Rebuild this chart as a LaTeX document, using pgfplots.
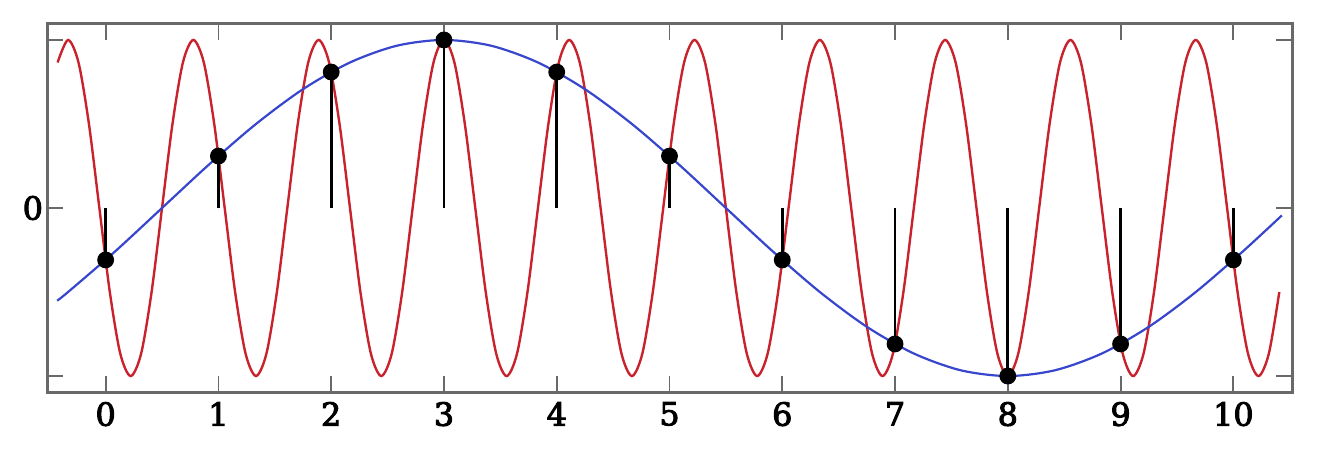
\documentclass[border=0pt]{standalone}
\usepackage{pgfplots}
\pgfplotsset{compat=1.18}
\usepackage{fontspec}
\setmainfont{DejaVu Serif}
\newfontfamily\tickfont{DejaVu Serif}[FakeBold=3]
\definecolor{redc}{RGB}{200,35,45}
\definecolor{bluec}{RGB}{55,70,205}
\definecolor{framec}{RGB}{105,105,105}
\begin{document}
\begin{tikzpicture}
\begin{axis}[name=ax, scale only axis, width=622.5bp, height=184bp,
 xmin=-0.52, xmax=10.52, ymin=-1.095, ymax=1.095,
 xtick={0,...,10}, ytick={-1,0,1}, yticklabels={,0,},
 tick align=inside, major tick length=8bp,
 axis line style={framec, line width=1.5bp},
 tick style={framec, line width=0.9bp},
 ticklabel style={font=\fontsize{16}{19}\tickfont},
 xticklabel style={yshift=-1.5bp},
 yticklabel style={xshift=1.5bp},
 /pgf/number format/assume math mode=true]
\addplot[redc, line width=1.2bp, smooth] coordinates {
(-0.4259,0.866)
(-0.3333,1) (-0.2407,0.866) (-0.1481,0.5) (-0.0556,0) (0.0370,-0.5) (0.1296,-0.866)
(0.2222,-1) (0.3148,-0.866) (0.4074,-0.5) (0.5000,0) (0.5926,0.5) (0.6852,0.866)
(0.7778,1) (0.8704,0.866) (0.9630,0.5) (1.0556,0) (1.1481,-0.5) (1.2407,-0.866)
(1.3333,-1) (1.4259,-0.866) (1.5185,-0.5) (1.6111,0) (1.7037,0.5) (1.7963,0.866)
(1.8889,1) (1.9815,0.866) (2.0741,0.5) (2.1667,0) (2.2593,-0.5) (2.3519,-0.866)
(2.4444,-1) (2.5370,-0.866) (2.6296,-0.5) (2.7222,0) (2.8148,0.5) (2.9074,0.866)
(3.0000,1) (3.0926,0.866) (3.1852,0.5) (3.2778,0) (3.3704,-0.5) (3.4630,-0.866)
(3.5556,-1) (3.6481,-0.866) (3.7407,-0.5) (3.8333,0) (3.9259,0.5) (4.0185,0.866)
(4.1111,1) (4.2037,0.866) (4.2963,0.5) (4.3889,0) (4.4815,-0.5) (4.5741,-0.866)
(4.6667,-1) (4.7593,-0.866) (4.8519,-0.5) (4.9444,0) (5.0370,0.5) (5.1296,0.866)
(5.2222,1) (5.3148,0.866) (5.4074,0.5) (5.5000,0) (5.5926,-0.5) (5.6852,-0.866)
(5.7778,-1) (5.8704,-0.866) (5.9630,-0.5) (6.0556,0) (6.1481,0.5) (6.2407,0.866)
(6.3333,1) (6.4259,0.866) (6.5185,0.5) (6.6111,0) (6.7037,-0.5) (6.7963,-0.866)
(6.8889,-1) (6.9815,-0.866) (7.0741,-0.5) (7.1667,0) (7.2593,0.5) (7.3519,0.866)
(7.4444,1) (7.5370,0.866) (7.6296,0.5) (7.7222,0) (7.8148,-0.5) (7.9074,-0.866)
(8.0000,-1) (8.0926,-0.866) (8.1852,-0.5) (8.2778,0) (8.3704,0.5) (8.4630,0.866)
(8.5556,1) (8.6481,0.866) (8.7407,0.5) (8.8333,0) (8.9259,-0.5) (9.0185,-0.866)
(9.1111,-1) (9.2037,-0.866) (9.2963,-0.5) (9.3889,0) (9.4815,0.5) (9.5741,0.866)
(9.6667,1) (9.7593,0.866) (9.8519,0.5) (9.9444,0) (10.0370,-0.5) (10.1296,-0.866)
(10.2222,-1) (10.3148,-0.866) (10.4074,-0.5)
};
\addplot[bluec, line width=1.1bp, smooth] coordinates {
(-0.43,-0.5516) (-0.3333,-0.5) (0.0833,-0.2588) (0.5,0) (0.9167,0.2588)
(1.3333,0.5) (1.75,0.7071) (2.1667,0.8660) (2.5833,0.9659) (3,1)
(3.4167,0.9659) (3.8333,0.8660) (4.25,0.7071) (4.6667,0.5) (5.0833,0.2588)
(5.5,0) (5.9167,-0.2588) (6.3333,-0.5) (6.75,-0.7071) (7.1667,-0.8660)
(7.5833,-0.9659) (8,-1) (8.4167,-0.9659) (8.8333,-0.8660) (9.25,-0.7071)
(9.6667,-0.5) (10.0833,-0.2588) (10.43,-0.044)
};
\addplot[black, line width=1.4bp, ycomb, mark=*, mark size=3.5bp, mark options={fill=black}] coordinates {
(0,-0.309) (1,0.309) (2,0.809) (3,1) (4,0.809) (5,0.309)
(6,-0.309) (7,-0.809) (8,-1) (9,-0.809) (10,-0.309)
};
\end{axis}
\path ([shift={(-23.5bp,-35bp)}]ax.south west) rectangle ([shift={(15bp,12bp)}]ax.north east);
\end{tikzpicture}
\end{document}
